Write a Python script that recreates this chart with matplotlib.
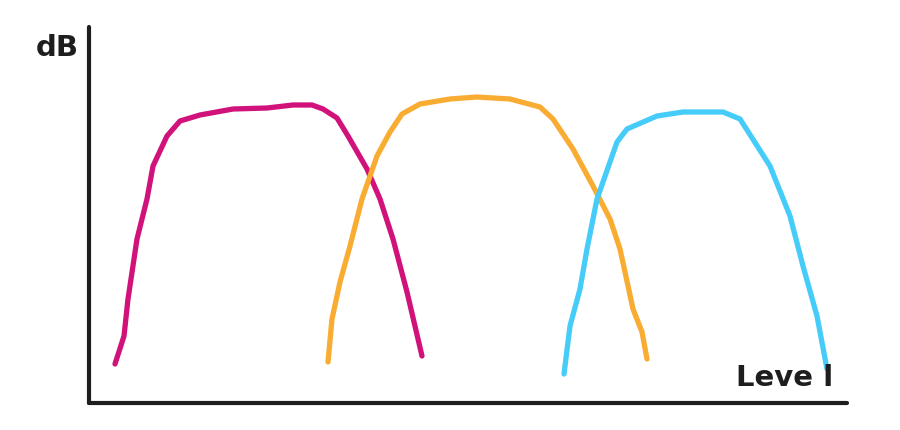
import matplotlib
matplotlib.use("Agg")
import matplotlib.pyplot as plt

# three overlapping band responses (x: level, y: dB)
magenta_x = [26, 35, 39, 48, 58, 64, 78, 91, 111, 144, 178, 204, 223, 234, 248, 259, 278, 291, 304, 318, 333]
magenta_y = [39, 67, 104, 164, 204, 237, 267, 282, 288, 294, 295, 298, 298, 294, 285, 267, 234, 204, 164, 111, 47]

orange_x = [239, 243, 251, 261, 273, 288, 301, 313, 331, 361, 388, 421, 451, 464, 484, 504, 521, 531, 544, 553, 558]
orange_y = [41, 84, 121, 157, 204, 247, 271, 289, 299, 304, 306, 304, 296, 284, 254, 217, 184, 154, 94, 71, 44]

blue_x = [475, 481, 491, 498, 508, 528, 538, 568, 594, 634, 651, 681, 701, 714, 728, 738]
blue_y = [29, 77, 114, 154, 204, 261, 274, 287, 291, 291, 284, 237, 187, 137, 87, 34]

ylabel = "dB"
xlabel = "Leve l"

fig = plt.figure(figsize=(9, 4.31), dpi=100)
ax = fig.add_axes([89 / 900, 27 / 431, 758 / 900, 376 / 431])

lw = 3.8
ax.plot(magenta_x, magenta_y, color="#d0127a", lw=lw, solid_capstyle="round", solid_joinstyle="round")
ax.plot(orange_x, orange_y, color="#f9ac32", lw=lw, solid_capstyle="round", solid_joinstyle="round")
ax.plot(blue_x, blue_y, color="#45ccf8", lw=lw, solid_capstyle="round", solid_joinstyle="round")

ax.set_xlim(0, 758)
ax.set_ylim(0, 376)
ax.set_xticks([])
ax.set_yticks([])
for s in ["top", "right"]:
    ax.spines[s].set_visible(False)
for s in ["left", "bottom"]:
    ax.spines[s].set_linewidth(3)
    ax.spines[s].set_color("#1e1e1e")
    ax.spines[s].set_capstyle("round")

ax.text(-32, 356, ylabel, fontsize=21, fontweight="bold", color="#1e1e1e",
        ha="center", va="center", clip_on=False)
ax.text(696, 26, xlabel, fontsize=21, fontweight="bold", color="#1e1e1e",
        ha="center", va="center", clip_on=False)

fig.savefig("out.png", dpi=100, facecolor="white")
